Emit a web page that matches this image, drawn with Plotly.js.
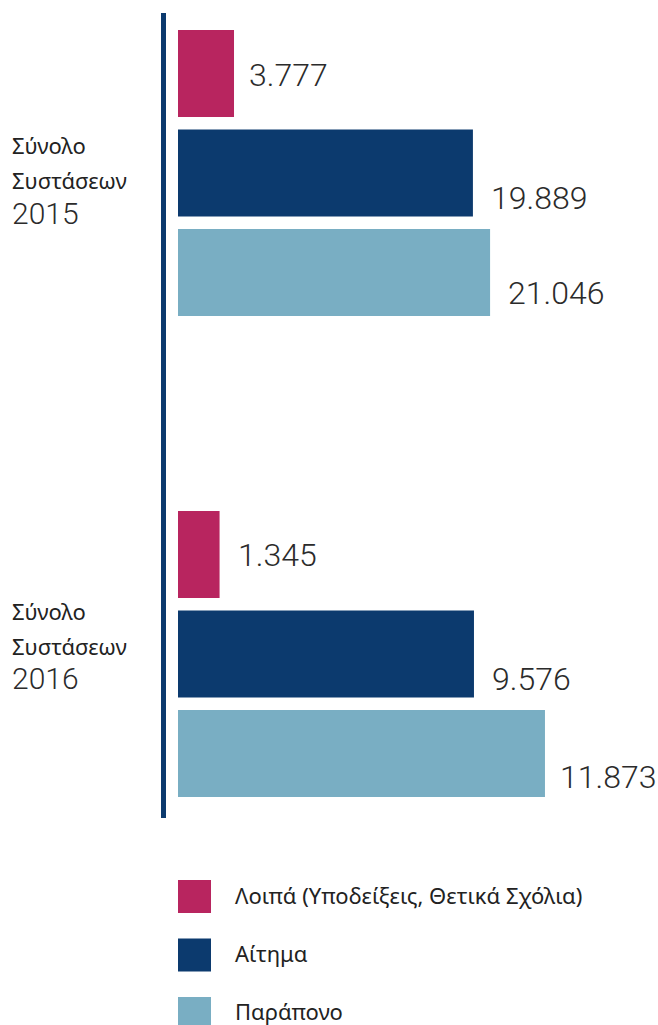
<!DOCTYPE html>
<html>
<head>
<meta charset="utf-8">
<script src="https://cdn.plot.ly/plotly-3.0.1.min.js"></script>
<style>html,body{margin:0;padding:0;background:#fff;}#chart{width:658px;height:1025px;}</style>
</head>
<body>
<div id="chart"></div>
<script>
// ---- data ----
const groupTitleLines = ['Σύνολο', 'Συστάσεων'];
const years = ['2015', '2016'];
const seriesNames = ['Λοιπά (Υποδείξεις, Θετικά Σχόλια)', 'Αίτημα', 'Παράπονο'];
const values2015 = [3777, 19889, 21046];
const values2016 = [1345, 9576, 11873];
const seriesColors = ['#b8255f', '#0c3a6e', '#79aec3'];

// ---- helpers ----
const W = 658, H = 1025;
function fmt(v) { return String(v).replace(/\B(?=(\d{3})+(?!\d))/g, '.'); }
const px = v => v / W;
const py = v => 1 - v / H;

const valueFont = {family: 'Roboto, sans-serif', size: 32, color: '#2b2b2b', weight: 300};
const titleFont = {family: '"Noto Sans", sans-serif', size: 22, color: '#222'};
const yearFont = {family: 'Roboto, sans-serif', size: 30, color: '#2b2b2b', weight: 300};
const legendFont = {family: '"Noto Sans", sans-serif', size: 22, color: '#222'};

const groups = [
  {year: years[0], values: values2015, xa: 'x', ya: 'y', xRange: 32370, yDomain: [py(322.25), py(23.75)],
   labelShift: [[-1, 13], [-24.5, 16], [-20.5, 16]], titleShift: [28.5, -6.5, -40]},
  {year: years[1], values: values2016, xa: 'x2', ya: 'y2', xRange: 15530, yDomain: [py(803.25), py(504.75)],
   labelShift: [[0, 16], [-24.5, 16], [-23.5, 13]], titleShift: [43.5, 8.5, -24]}
];

const traces = [];
const annotations = [];
groups.forEach(g => {
  traces.push({
    type: 'bar', orientation: 'h',
    x: g.values, y: seriesNames,
    xaxis: g.xa, yaxis: g.ya,
    marker: {color: seriesColors},
    width: 0.875, hoverinfo: 'skip', showlegend: false
  });
  g.values.forEach((v, i) => {
    annotations.push({
      xref: g.xa, yref: g.ya, x: v, y: seriesNames[i],
      text: fmt(v), showarrow: false, xanchor: 'left', yanchor: 'middle',
      xshift: g.labelShift[i][1], yshift: g.labelShift[i][0], font: valueFont
    });
  });
  const lines = groupTitleLines.concat([g.year]);
  lines.forEach((t, k) => {
    annotations.push({
      xref: 'paper', yref: g.ya, x: px(10), y: seriesNames[1],
      text: t, showarrow: false, xanchor: 'left', yanchor: 'middle',
      yshift: g.titleShift[k], font: k < 2 ? titleFont : yearFont
    });
  });
});

// legend (as its own small subplot)
traces.push({
  type: 'scatter', mode: 'markers',
  x: seriesNames.map(() => 0), y: seriesNames,
  xaxis: 'x3', yaxis: 'y3',
  marker: {symbol: 'square', size: 33, color: seriesColors, line: {width: 0}},
  hoverinfo: 'skip', showlegend: false, cliponaxis: false
});
seriesNames.forEach(n => {
  annotations.push({
    xref: 'x3', yref: 'y3', x: 0, y: n, text: n, showarrow: false,
    xanchor: 'left', yanchor: 'middle', xshift: 38, yshift: 2, font: legendFont
  });
});

const hidden = {showgrid: false, zeroline: false, showticklabels: false, showline: false, ticks: '', fixedrange: true};

const layout = {
  width: W, height: H,
  margin: {l: 0, r: 0, t: 0, b: 0, pad: 0},
  paper_bgcolor: '#fff', plot_bgcolor: 'rgba(0,0,0,0)',
  showlegend: false,
  xaxis: Object.assign({}, hidden, {domain: [px(178), 1], range: [0, groups[0].xRange], anchor: 'y'}),
  yaxis: Object.assign({}, hidden, {domain: groups[0].yDomain, type: 'category', range: [2.5, -0.5], anchor: 'x'}),
  xaxis2: Object.assign({}, hidden, {domain: [px(178), 1], range: [0, groups[1].xRange], anchor: 'y2'}),
  yaxis2: Object.assign({}, hidden, {domain: groups[1].yDomain, type: 'category', range: [2.5, -0.5], anchor: 'x2'}),
  xaxis3: Object.assign({}, hidden, {domain: [px(178), 1], range: [-16.5, 463.5], anchor: 'y3'}),
  yaxis3: Object.assign({}, hidden, {domain: [0, py(867.25)], type: 'category', range: [2.197, -0.5], anchor: 'x3'}),
  shapes: [{
    type: 'line', xref: 'paper', yref: 'paper',
    x0: px(163.5), x1: px(163.5), y0: py(13), y1: py(818),
    line: {color: '#0c3a6e', width: 5}
  }],
  annotations: annotations
};

Plotly.newPlot('chart', traces, layout, {displayModeBar: false, staticPlot: true});
</script>
</body>
</html>
